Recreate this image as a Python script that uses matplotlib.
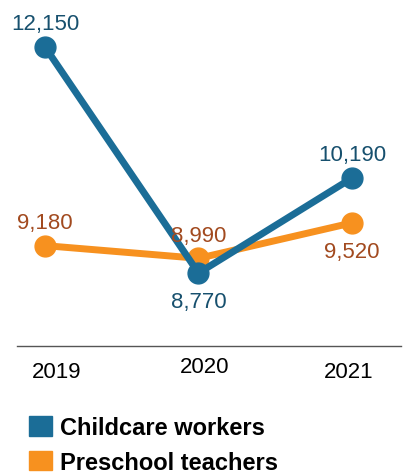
import matplotlib
matplotlib.use('Agg')
import matplotlib.pyplot as plt
import matplotlib.transforms as mtransforms
from matplotlib.patches import Patch

plt.rcParams['font.family'] = ['Liberation Sans', 'DejaVu Sans']

years = [2019, 2020, 2021]
childcare = [12150, 8770, 10190]
preschool = [9180, 8990, 9520]
childcare_labels = ['12,150', '8,770', '10,190']
preschool_labels = ['9,180', '8,990', '9,520']
# +1 above the point, -1 below
childcare_side = [1, -1, 1]
preschool_side = [1, 1, -1]

blue = '#1b6d97'
orange = '#f7911f'
blue_text = '#17506e'
orange_text = '#a24a1f'

fig = plt.figure(figsize=(4.06, 4.77), dpi=100)
ax = fig.add_axes([0.042, 0.2725, 0.946, 0.7275])

ax.plot(years, preschool, color=orange, lw=5, marker='o', ms=15, zorder=2)
ax.plot(years, childcare, color=blue, lw=5, marker='o', ms=15, zorder=3)

for x, y, lab, s in zip(years, childcare, childcare_labels, childcare_side):
    ax.annotate(lab, (x, y), xytext=(0, 18.5 * s), textcoords='offset points',
                ha='center', va='center_baseline', fontsize=16, color=blue_text)
for x, y, lab, s in zip(years, preschool, preschool_labels, preschool_side):
    ax.annotate(lab, (x, y), xytext=(0, 18.5 * s), textcoords='offset points',
                ha='center', va='center_baseline', fontsize=16, color=orange_text)

ax.set_xlim(2019 - 0.182, 2021.32)
ax.set_ylim(7679, 12867)
ax.set_xticks(years)
ax.set_xticklabels([str(y) for y in years], fontsize=16)
ax.tick_params(axis='x', length=0, pad=11)
# tick labels in the original sit a little off their points
for lbl, (dx, dy) in zip(ax.get_xticklabels(), [(12, 0), (6, 5), (-3, 0)]):
    lbl.set_transform(lbl.get_transform() +
                      mtransforms.ScaledTranslation(dx / 100, dy / 100, fig.dpi_scale_trans))
ax.set_yticks([])
for side in ['top', 'left', 'right']:
    ax.spines[side].set_visible(False)
ax.spines['bottom'].set_color('#555555')
ax.spines['bottom'].set_linewidth(1)

handles = [Patch(color=blue, label='Childcare workers'),
           Patch(color=orange, label='Preschool teachers')]
fig.legend(handles=handles, loc='upper left', bbox_to_anchor=(0.072, 0.126),
           frameon=False, prop={'weight': 'bold', 'size': 17},
           handlelength=0.95, handleheight=0.9, handletextpad=0.35,
           labelspacing=0.5, borderaxespad=0, borderpad=0)

fig.savefig('out.png', dpi=100)
